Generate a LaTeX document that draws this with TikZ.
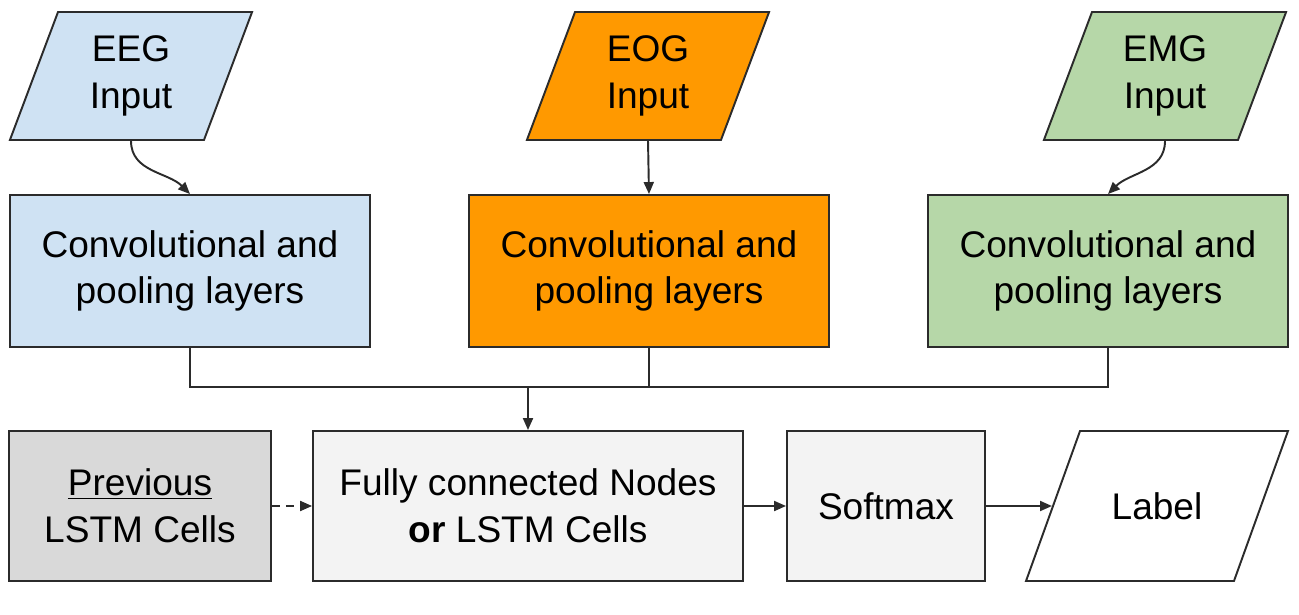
\documentclass[tikz,border=0pt]{standalone}
\usepackage{fontspec}
\setmainfont{Liberation Sans}
\usetikzlibrary{shapes.geometric,arrows.meta}
\definecolor{eegblue}{HTML}{CFE2F3}
\definecolor{eogorange}{HTML}{FF9900}
\definecolor{emggreen}{HTML}{B6D7A8}
\definecolor{prevgray}{HTML}{D9D9D9}
\definecolor{cellgray}{HTML}{F3F3F3}
\definecolor{edge}{HTML}{2B2B2B}
% fixed body for the slanted boxes: height, width, text
\newcommand\slantbody[3]{\parbox[c][#1][c]{#2}{\centering #3}}
\begin{document}
\begin{tikzpicture}[x=0.02cm,y=-0.02cm,
    box/.style={draw=edge,line width=1.1pt,align=center,inner sep=0pt,
      font=\fontsize{21.1}{26.5}\selectfont},
    layer/.style={box,minimum width=7.2cm,minimum height=3.04cm},
    cell/.style={box,minimum height=3.0cm},
    datain/.style={box,trapezium,trapezium left angle=#1,trapezium right angle=180-#1},
    link/.style={draw=edge,line width=1.1pt},
    tip/.style={link,-{Triangle[length=0.24cm,width=0.2cm]}}]
  \useasboundingbox (0,0) rectangle (1299,615);
  % signal inputs
  \node[datain=69.4,fill=eegblue] (eegin) at (131,76) {\slantbody{2.56cm}{2.92cm}{EEG\\Input}};
  \node[datain=69.4,fill=eogorange] (eogin) at (648,76) {\slantbody{2.56cm}{2.92cm}{EOG\\Input}};
  \node[datain=69.4,fill=emggreen] (emgin) at (1165,76) {\slantbody{2.56cm}{2.92cm}{EMG\\Input}};
  % feature extraction
  \node[layer,fill=eegblue] (eegconv) at (190,271) {Convolutional and\\pooling layers};
  \node[layer,fill=eogorange] (eogconv) at (649,271) {Convolutional and\\pooling layers};
  \node[layer,fill=emggreen] (emgconv) at (1108,271) {Convolutional and\\pooling layers};
  % classification row
  \node[cell,fill=prevgray,minimum width=5.24cm] (prev) at (140,506) {\underline{Previous}\\LSTM Cells};
  \node[cell,fill=cellgray,minimum width=8.6cm] (fc) at (528,506) {Fully connected Nodes\\\textbf{or} LSTM Cells};
  \node[cell,fill=cellgray,minimum width=3.96cm] (softmax) at (886,506) {Softmax};
  \node[datain=70.2,fill=white] (label) at (1157,506) {\slantbody{3.0cm}{3.08cm}{Label}};
  \coordinate (merge) at (528,387);

  \draw[tip] (eegin.south) to[out=-90,in=135] (eegconv.north);
  \draw[tip] (eogin.south) -- (eogconv.north);
  \draw[tip] (emgin.south) to[out=-90,in=45] (emgconv.north);
  \draw[link] (eegconv.south) |- (merge);
  \draw[link] (emgconv.south) |- (merge);
  \draw[link] (eogconv.south) -- (eogconv.south |- merge);
  \draw[tip] (merge) -- (fc.north);
  \draw[tip,dash pattern=on 0.16cm off 0.12cm] (prev.east) -- (fc.west);
  \draw[tip] (fc.east) -- (softmax.west);
  \draw[tip] (softmax.east) -- (label.left side);
\end{tikzpicture}
\end{document}
